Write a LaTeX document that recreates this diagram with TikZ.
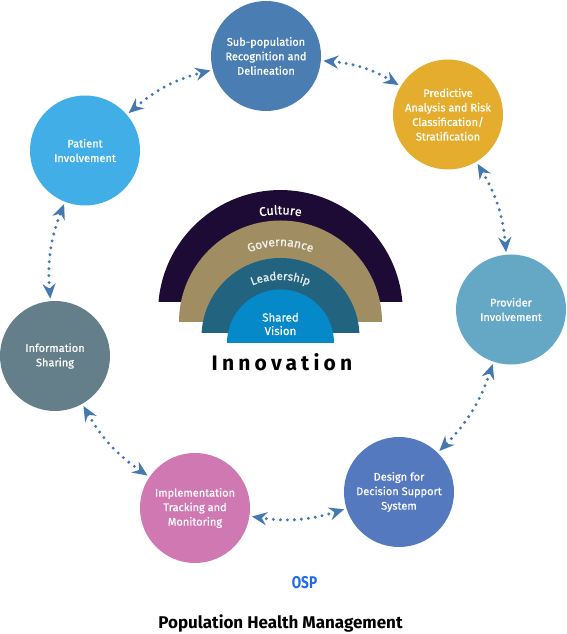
\documentclass[tikz,border=0pt]{standalone}
\usepackage{fontspec}
\setmainfont{Fira Sans}
\newfontfamily\stagefont[FakeBold=0.8]{Fira Sans}
\usetikzlibrary{arrows.meta,decorations.text}

\definecolor{subpopc}{HTML}{4A7EB2}
\definecolor{predictc}{HTML}{E4AD2D}
\definecolor{patientc}{HTML}{42AEE8}
\definecolor{providerc}{HTML}{65A8C6}
\definecolor{infoc}{HTML}{657F8A}
\definecolor{designc}{HTML}{5479BF}
\definecolor{implc}{HTML}{CF78B2}
\definecolor{linkc}{HTML}{4479B0}
\definecolor{culturec}{HTML}{1D0B35}
\definecolor{governc}{HTML}{A08E62}
\definecolor{leadc}{HTML}{22647F}
\definecolor{sharedc}{HTML}{0589C8}
\definecolor{ospc}{HTML}{1F6BEA}

\tikzset{
  stage/.style={circle, minimum size=110pt, inner sep=0pt, outer sep=2.5pt,
    text=white, align=center, font=\stagefont\fontsize{11}{14.5}\selectfont},
  link/.style={linkc, line width=3.3pt, line cap=round, dash pattern=on 0pt off 7pt,
    {Stealth[length=15pt,width=13pt,inset=5pt]}-{Stealth[length=15pt,width=13pt,inset=5pt]},
    bend left=13},
}

\begin{document}
\begin{tikzpicture}[x=1pt,y=1pt]
\useasboundingbox (0,0) rectangle (566,634);

% the four layers in the middle
\fill[culturec] (158.5,332) arc[start angle=175.1, end angle=4.9, radius=122.4] -- cycle;
\fill[governc] (179,312) arc[start angle=180, end angle=0, radius=101.5] -- cycle;
\fill[leadc] (201.6,301) arc[start angle=177.1, end angle=2.9, radius=79] -- cycle;
\fill[sharedc] (227,291) arc[start angle=180, end angle=0, radius=53.5] -- cycle;

\path[decorate, decoration={text along path, text align=center, text color=white,
  text={|\stagefont\fontsize{12.5}{14}\selectfont|Culture}}]
  (280.5,321.6) ++(106:98) arc[start angle=106, end angle=74, radius=98];
\path[decorate, decoration={text along path, text align=center, text color=white!88!governc,
  text={|\stagefont\fontsize{12}{14}\selectfont|Governance}}]
  (280.5,310.5) ++(119:77.5) arc[start angle=119, end angle=61, radius=77.5];
\path[decorate, decoration={text along path, text align=center, text color=white!88!leadc,
  text={|\stagefont\fontsize{11.5}{13}\selectfont|Leadership}}]
  (280.5,279) ++(115:75) arc[start angle=115, end angle=65, radius=75];

\node[text=white, align=center, font=\stagefont\fontsize{11.5}{13.5}\selectfont] (shared) at (280.5,310) {Shared\\Vision};
\node[font=\fontsize{21}{24}\bfseries\addfontfeature{LetterSpace=20}] (innov) at (282,272) {Innovation};

% stages round the ring
\node[stage, fill=subpopc] (subpop) at (266,578) {Sub-population\\Recognition and\\Delineation};
\node[stage, fill=predictc] (predict) at (448,519.5) {Predictive\\Analysis and Risk\\Classification/\\Stratification};
\node[stage, fill=providerc] (provider) at (511,324.5) {Provider\\Involvement};
\node[stage, fill=designc] (design) at (399,142) {Design for\\Decision Support\\System};
\node[stage, fill=implc] (impl) at (195,126) {Implementation\\Tracking and\\Monitoring};
\node[stage, fill=infoc] (info) at (55,278) {Information\\Sharing};
\node[stage, fill=patientc] (patient) at (85,483.5) {Patient\\Involvement};

% dotted links
\draw[link] (subpop) to (predict);
\draw[link] (predict) to (provider);
\draw[link] (provider) to (design);
\draw[link] (design) to (impl);
\draw[link] (impl) to (info);
\draw[link] (info) to (patient);
\draw[link] (patient) to (subpop);

\node[text=ospc, font=\fontsize{17}{19}\bfseries, xscale=0.8] (osp) at (304.5,51) {OSP};
\node[font=\fontsize{17}{20}\bfseries] (title) at (280.5,11) {Population Health Management};
\end{tikzpicture}
\end{document}
